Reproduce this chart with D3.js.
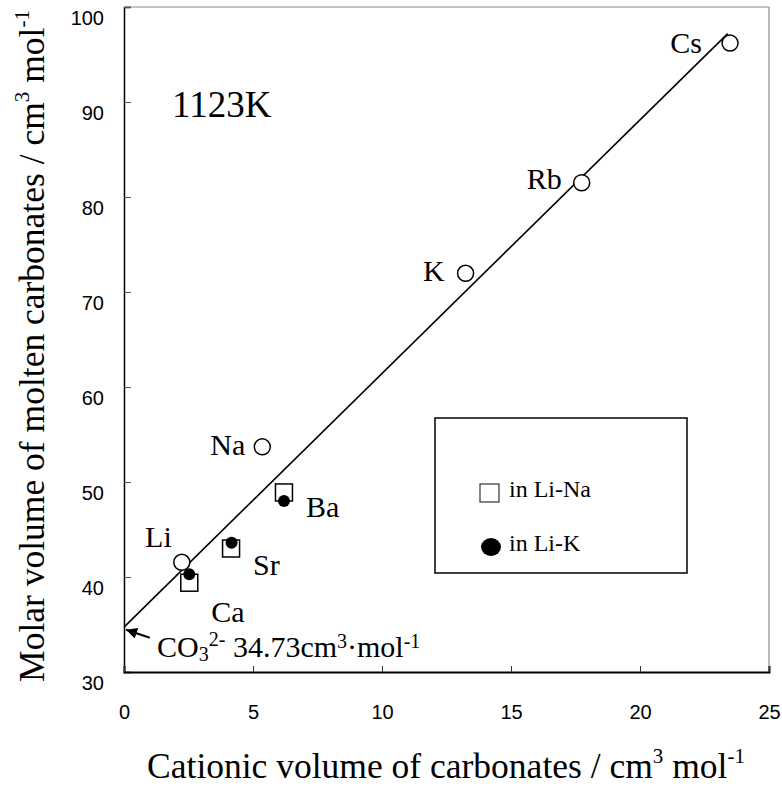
<!DOCTYPE html>
<html>
<head>
<meta charset="utf-8">
<script src="https://cdn.jsdelivr.net/npm/d3@7"></script>
<style>
  html, body { margin: 0; padding: 0; background: #fff; }
  svg { display: block; }
</style>
</head>
<body>
<svg id="chart" width="782" height="790"></svg>
<script>
// Alkali carbonates (open circles)
const alkaliNames = ["Li", "Na", "K", "Rb", "Cs"];
const alkaliCation = [2.24, 5.36, 13.24, 17.74, 23.49];
const alkaliMolar = [41.55, 53.7, 71.97, 81.5, 96.2];

// Alkaline-earth carbonates measured in Li-Na (open squares) and Li-K (filled circles)
const earthNames = ["Ca", "Sr", "Ba"];
const liNaCation = [2.53, 4.15, 6.2];
const liNaMolar = [39.4, 43.0, 48.9];
const liKCation = [2.53, 4.17, 6.2];
const liKMolar = [40.3, 43.6, 48.0];

// Fitted line: intercept is the carbonate-ion volume
const fitX = [0, 23.4];
const fitY = [34.73, 97.2];

const xTicks = [0, 5, 10, 15, 20, 25];
const yTicks = [30, 40, 50, 60, 70, 80, 90, 100];

const svg = d3.select("#chart");
const plotLeft = 124, plotRight = 769, plotTop = 7, plotBottom = 672;

const x = d3.scaleLinear().domain([0, 25]).range([plotLeft, plotRight]);
const y = d3.scaleLinear().domain([30, 100]).range([plotBottom, plotTop]);

const serif = "'Liberation Serif', 'Times New Roman', serif";
const sans = "'Liberation Sans', Arial, sans-serif";

// Frame: grey top/right, black left/bottom axes
svg.append("line").attr("x1", plotLeft).attr("x2", plotRight).attr("y1", plotTop).attr("y2", plotTop)
  .attr("stroke", "#8a8a8a").attr("stroke-width", 1.2);
svg.append("line").attr("x1", plotRight).attr("x2", plotRight).attr("y1", plotTop).attr("y2", plotBottom)
  .attr("stroke", "#8a8a8a").attr("stroke-width", 1.2);

// Y axis (ticks inward)
const gy = svg.append("g").attr("transform", `translate(${plotLeft},0)`)
  .call(d3.axisLeft(y).tickValues(yTicks).tickSize(-7).tickPadding(20).tickFormat(d3.format("d")));
gy.select(".domain").attr("stroke", "#000").attr("stroke-width", 1.5);
gy.selectAll(".tick line").attr("stroke", "#555").attr("stroke-width", 1);
gy.selectAll(".tick text").attr("font-family", sans).attr("font-size", 20)
  .attr("fill", "#000").attr("dy", "0.88em");

// X axis (ticks inward)
const gx = svg.append("g").attr("transform", `translate(0,${plotBottom})`)
  .call(d3.axisBottom(x).tickValues(xTicks).tickSize(-6).tickFormat(d3.format("d")));
gx.select(".domain").attr("stroke", "#000").attr("stroke-width", 2);
gx.selectAll(".tick line").attr("stroke", "#333").attr("stroke-width", 1);
gx.selectAll(".tick text").attr("font-family", sans).attr("font-size", 20)
  .attr("fill", "#000").attr("y", 33).attr("dy", "0.71em");

// Fitted line
svg.append("line")
  .attr("x1", x(fitX[0])).attr("y1", y(fitY[0]))
  .attr("x2", x(fitX[1])).attr("y2", y(fitY[1]))
  .attr("stroke", "#000").attr("stroke-width", 1.6);

// Arrow pointing at the intercept
const defs = svg.append("defs");
defs.append("marker").attr("id", "arrowHead").attr("viewBox", "0 0 10 10")
  .attr("refX", 10).attr("refY", 5).attr("markerWidth", 6).attr("markerHeight", 5)
  .attr("markerUnits", "strokeWidth").attr("orient", "auto")
  .append("path").attr("d", "M0,0 L10,5 L0,10 z").attr("fill", "#000");
svg.append("line")
  .attr("x1", x(1.0)).attr("y1", y(33.6))
  .attr("x2", x(0.08)).attr("y2", y(34.45))
  .attr("stroke", "#000").attr("stroke-width", 2.2)
  .attr("marker-end", "url(#arrowHead)");

// Carbonate-ion annotation
const ann = svg.append("text").attr("x", x(1.28)).attr("y", 657)
  .attr("font-family", serif).attr("font-size", 30).attr("fill", "#000");
ann.append("tspan").text("CO");
ann.append("tspan").attr("font-size", 20).attr("dy", 4).text("3");
ann.append("tspan").attr("font-size", 20).attr("dy", -15).text("2-");
ann.append("tspan").attr("dy", 11).text(" " + fitY[0].toFixed(2) + "cm");
ann.append("tspan").attr("font-size", 20).attr("dy", -9).text("3");
ann.append("tspan").attr("dy", 9).text("·mol");
ann.append("tspan").attr("font-size", 20).attr("dy", -9).text("-1");

// Li-Na squares
const sq = 17;
svg.append("g").selectAll("rect").data(liNaCation).join("rect")
  .attr("x", (d) => x(d) - sq / 2)
  .attr("y", (d, i) => y(liNaMolar[i]) - sq / 2)
  .attr("width", sq).attr("height", sq)
  .attr("fill", "#fff").attr("stroke", "#000").attr("stroke-width", 1.5);

// Li-K filled circles
svg.append("g").selectAll("circle").data(liKCation).join("circle")
  .attr("cx", (d) => x(d)).attr("cy", (d, i) => y(liKMolar[i]))
  .attr("r", 6).attr("fill", "#000");

// Alkali open circles
svg.append("g").selectAll("circle").data(alkaliCation).join("circle")
  .attr("cx", (d) => x(d)).attr("cy", (d, i) => y(alkaliMolar[i]))
  .attr("r", 8).attr("fill", "#fff").attr("stroke", "#000").attr("stroke-width", 1.5);

// Element labels (offsets in pixels from their marker)
const alkaliOffsets = {Li: [-10, -15], Na: [-17, 8], K: [-21, 8], Rb: [-20, 6], Cs: [-28, 10]};
svg.append("g").selectAll("text").data(alkaliNames).join("text")
  .attr("x", (d, i) => x(alkaliCation[i]) + alkaliOffsets[d][0])
  .attr("y", (d, i) => y(alkaliMolar[i]) + alkaliOffsets[d][1])
  .attr("text-anchor", "end")
  .attr("font-family", serif).attr("font-size", 30).attr("fill", "#000")
  .text((d) => d);

const earthOffsets = {Ca: [22, 39], Sr: [22, 26], Ba: [22, 25]};
svg.append("g").selectAll("text").data(earthNames).join("text")
  .attr("x", (d, i) => x(liNaCation[i]) + earthOffsets[d][0])
  .attr("y", (d, i) => y(liNaMolar[i]) + earthOffsets[d][1])
  .attr("font-family", serif).attr("font-size", 30).attr("fill", "#000")
  .text((d) => d);

// Temperature label
svg.append("text").attr("x", 172).attr("y", 117)
  .attr("font-family", serif).attr("font-size", 37).attr("fill", "#000").text("1123K");

// Legend
svg.append("rect").attr("x", 435).attr("y", 418).attr("width", 252).attr("height", 155)
  .attr("fill", "none").attr("stroke", "#000").attr("stroke-width", 1.5);
svg.append("rect").attr("x", 480).attr("y", 484).attr("width", 19).attr("height", 18)
  .attr("fill", "#fff").attr("stroke", "#333").attr("stroke-width", 1.2);
svg.append("text").attr("x", 509).attr("y", 497).attr("font-family", serif)
  .attr("font-size", 24).attr("fill", "#000").text("in Li-Na");
svg.append("ellipse").attr("cx", 491).attr("cy", 547).attr("rx", 10).attr("ry", 9).attr("fill", "#000");
svg.append("text").attr("x", 509).attr("y", 551).attr("font-family", serif)
  .attr("font-size", 24).attr("fill", "#000").text("in Li-K");

// Axis titles
const xt = svg.append("text").attr("x", 446).attr("y", 778)
  .attr("text-anchor", "middle").attr("font-family", serif).attr("font-size", 35.5).attr("fill", "#000");
xt.append("tspan").text("Cationic volume of carbonates / cm");
xt.append("tspan").attr("font-size", 21).attr("dy", -15).text("3");
xt.append("tspan").attr("dy", 15).text(" mol");
xt.append("tspan").attr("font-size", 21).attr("dy", -15).text("-1");

const yt = svg.append("text").attr("transform", "translate(44,346) rotate(-90)")
  .attr("text-anchor", "middle").attr("font-family", serif).attr("font-size", 35.5).attr("fill", "#000");
yt.append("tspan").text("Molar volume of molten carbonates / cm");
yt.append("tspan").attr("font-size", 21).attr("dy", -15).text("3");
yt.append("tspan").attr("dy", 15).text(" mol");
yt.append("tspan").attr("font-size", 21).attr("dy", -15).text("-1");
</script>
</body>
</html>
